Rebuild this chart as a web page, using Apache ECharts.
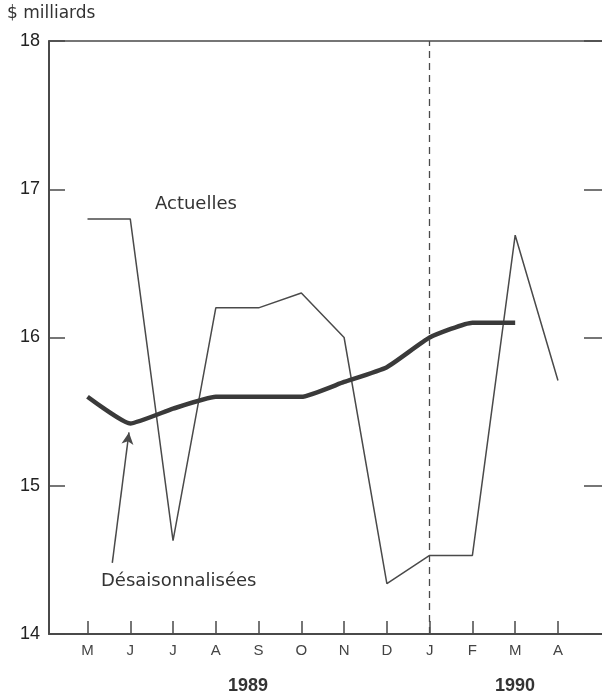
<!DOCTYPE html>
<html>
<head>
<meta charset="utf-8">
<script src="https://cdn.jsdelivr.net/npm/echarts@6/dist/echarts.min.js"></script>
<style>
  html, body { margin: 0; padding: 0; background: #fff; }
  #main { width: 602px; height: 694px; }
</style>
</head>
<body>
<div id="main"></div>
<script>
// months from May 1989 to April 1990
var months = ["M", "J", "J", "A", "S", "O", "N", "D", "J", "F", "M", "A"];
var actuelles = [16.8, 16.8, 14.63, 16.2, 16.2, 16.3, 16.0, 14.34, 14.53, 14.53, 16.69, 15.71];
var desaison = [15.6, 15.42, 15.52, 15.6, 15.6, 15.6, 15.7, 15.8, 16.0, 16.1, 16.1];
var yTicks = [14, 15, 16, 17, 18];
var yearLabels = ["1989", "1990"];

var ink = "#4a4a4a";
var font = "Liberation Sans, Arial, sans-serif";
var wide = "DejaVu Sans, sans-serif";

function pairs(arr) {
  return arr.map(function (v, i) { return [i, v]; });
}
var idx = months.map(function (m, i) { return i; });

var chart = echarts.init(document.getElementById("main"));

var option = {
  animation: false,
  grid: { left: 49, right: -3, top: 41, bottom: 60 },
  xAxis: [{
    type: "value",
    min: -0.9,
    max: 12.03,
    splitLine: { show: false },
    axisLine: { onZero: false, lineStyle: { color: ink, width: 2 } },
    axisTick: {
      inside: true, length: 13, customValues: idx,
      lineStyle: { color: ink, width: 1.5 }
    },
    axisLabel: {
      customValues: idx,
      margin: 9,
      color: "#444",
      fontFamily: font,
      fontSize: 15,
      formatter: function (v) { return months[Math.round(v)]; }
    }
  }, {
    // top frame line only
    type: "value",
    position: "top",
    min: -0.9,
    max: 12.03,
    splitLine: { show: false },
    axisLine: { show: true, onZero: false, lineStyle: { color: ink, width: 1.5 } },
    axisTick: { show: false },
    axisLabel: { show: false }
  }],
  yAxis: [{
    type: "value",
    min: yTicks[0],
    max: yTicks[yTicks.length - 1],
    interval: 1,
    splitLine: { show: false },
    axisLine: { show: true, onZero: false, lineStyle: { color: ink, width: 2 } },
    axisTick: { show: true, inside: true, length: 16, lineStyle: { color: ink, width: 1.5 } },
    axisLabel: {
      margin: 9, color: "#222", fontFamily: font, fontSize: 18,
      padding: [6, 0, 0, 0]
    }
  }, {
    type: "value",
    position: "right",
    min: yTicks[0],
    max: yTicks[yTicks.length - 1],
    interval: 1,
    splitLine: { show: false },
    axisLine: { show: false, onZero: false },
    axisTick: { show: true, inside: true, length: 18, lineStyle: { color: ink, width: 1.5 } },
    axisLabel: { show: false }
  }],
  series: [{
    name: "Actuelles",
    type: "line",
    data: pairs(actuelles),
    symbol: "none",
    lineStyle: { color: ink, width: 1.5 },
    markLine: {
      silent: true,
      symbol: "none",
      label: { show: false },
      lineStyle: { color: ink, width: 1.3, type: [7, 5] },
      data: [{ xAxis: 8 }]
    }
  }, {
    name: "Désaisonnalisées",
    type: "line",
    data: pairs(desaison),
    symbol: "none",
    smooth: 0.15,
    lineStyle: { color: "#3a3a3a", width: 4.5 },
    markLine: {
      silent: true,
      symbol: ["none", "arrow"],
      symbolSize: [9, 12],
      label: { show: false },
      lineStyle: { color: ink, width: 1.5, type: "solid" },
      data: [[{ coord: [0.58, 14.48] }, { coord: [0.97, 15.36] }]]
    }
  }],
  graphic: [
    { type: "text", left: 7, top: 5, style: { text: "$ milliards", font: "17px " + wide, fill: "#333" } },
    { type: "text", left: 155, top: 195, style: { text: "Actuelles", font: "18px " + wide, fill: "#333" } },
    { type: "text", left: 101, top: 572, style: { text: "Désaisonnalisées", font: "18px " + wide, fill: "#333" } },
    { type: "text", left: 228, top: 677, style: { text: yearLabels[0], font: "bold 18px " + font, fill: "#333" } },
    { type: "text", left: 495, top: 677, style: { text: yearLabels[1], font: "bold 18px " + font, fill: "#333" } }
  ]
};

chart.setOption(option);
</script>
</body>
</html>
